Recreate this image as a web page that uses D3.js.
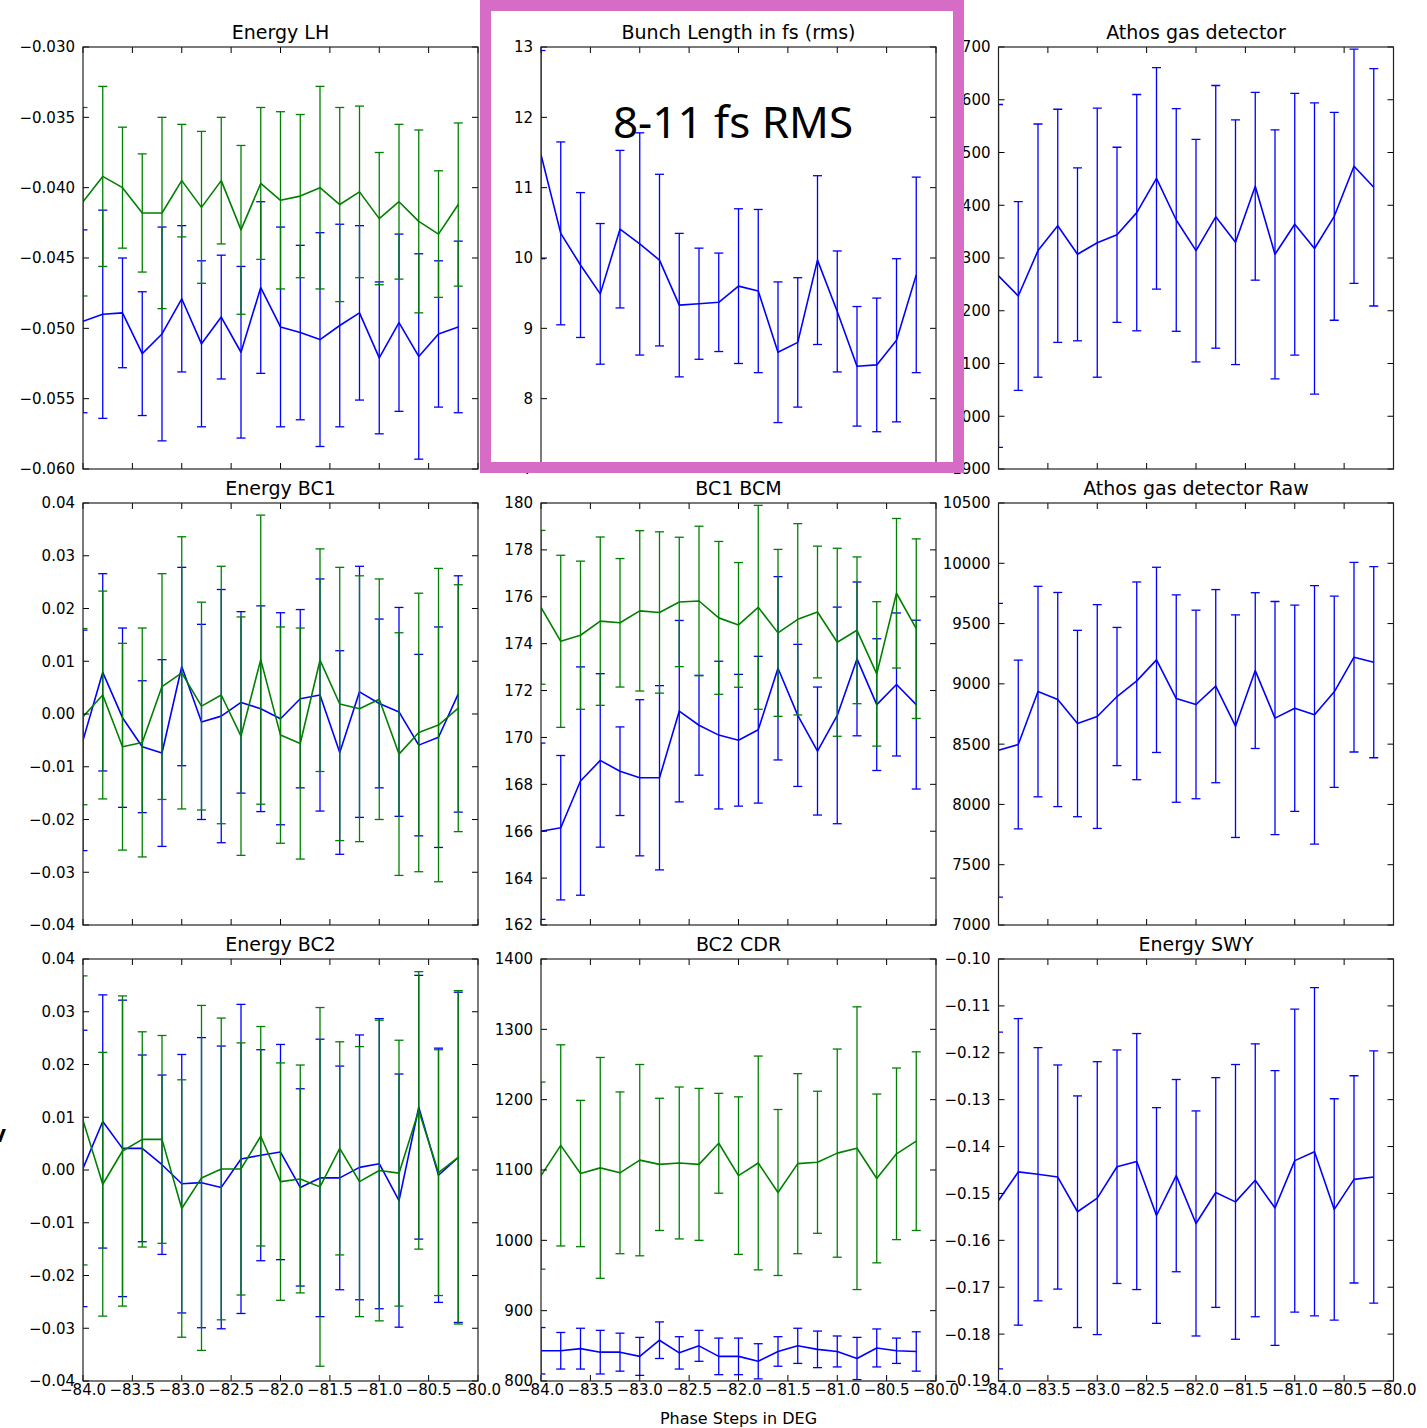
<!DOCTYPE html>
<html>
<head>
<meta charset="utf-8">
<script src="https://cdn.jsdelivr.net/npm/d3@7"></script>
<style>
  body { margin: 0; background: #fff; }
  text { font-family: "DejaVu Sans", sans-serif; fill: #000; }
</style>
</head>
<body>
<svg id="fig"></svg>
<script>
// phase steps (deg) shared by all panels
const phaseSteps = [-84.0, -83.8, -83.6, -83.4, -83.2, -83.0, -82.8, -82.6, -82.4, -82.2,
                    -82.0, -81.8, -81.6, -81.4, -81.2, -81.0, -80.8, -80.6, -80.4, -80.2];
const xTicks = [-84.0, -83.5, -83.0, -82.5, -82.0, -81.5, -81.0, -80.5, -80.0];

// Energy LH
const lhGreenMean = [-0.0410, -0.0392, -0.0400, -0.0418, -0.0418, -0.0395, -0.0414, -0.0395, -0.0430, -0.0397,
                     -0.0409, -0.0406, -0.0400, -0.0412, -0.0403, -0.0422, -0.0410, -0.0424, -0.0433, -0.0412];
const lhGreenErr = [0.0067, 0.0064, 0.0043, 0.0042, 0.0068, 0.0040, 0.0054, 0.0045, 0.0060, 0.0054,
                    0.0063, 0.0058, 0.0072, 0.0069, 0.0061, 0.0047, 0.0055, 0.0065, 0.0045, 0.0058];
const lhBlueMean = [-0.0495, -0.0490, -0.0489, -0.0518, -0.0504, -0.0479, -0.0511, -0.0492, -0.0517, -0.0471,
                    -0.0499, -0.0503, -0.0508, -0.0498, -0.0489, -0.0521, -0.0496, -0.0520, -0.0504, -0.0499];
const lhBlueErr = [0.0065, 0.0074, 0.0039, 0.0044, 0.0076, 0.0052, 0.0059, 0.0044, 0.0061, 0.0061,
                   0.0071, 0.0062, 0.0076, 0.0072, 0.0062, 0.0054, 0.0063, 0.0073, 0.0052, 0.0061];
const lhTicks = [-0.060, -0.055, -0.050, -0.045, -0.040, -0.035, -0.030];

// Bunch length
const blMean = [11.47, 10.35, 9.90, 9.49, 10.41, 10.20, 9.97, 9.33, 9.35, 9.37,
                9.60, 9.53, 8.66, 8.80, 9.97, 9.24, 8.46, 8.48, 8.83, 9.76];
const blErr = [1.48, 1.30, 1.03, 1.00, 1.12, 1.58, 1.22, 1.02, 0.79, 0.70,
               1.10, 1.16, 1.00, 0.92, 1.20, 0.86, 0.85, 0.95, 1.16, 1.39];
const blTicks = [7, 8, 9, 10, 11, 12, 13];

// Athos gas detector
const gdMean = [2266, 2228, 2314, 2361, 2307, 2329, 2344, 2386, 2451, 2372,
                2314, 2378, 2330, 2436, 2307, 2364, 2318, 2379, 2474, 2434];
const gdErr = [325, 179, 240, 221, 164, 255, 166, 224, 210, 211,
               211, 249, 232, 178, 236, 248, 276, 197, 222, 225];
const gdTicks = [1900, 2000, 2100, 2200, 2300, 2400, 2500, 2600, 2700];

// Energy BC1
const bc1BlueMean = [-0.0050, 0.0079, -0.0007, -0.0062, -0.0074, 0.0090, -0.0015, -0.0004, 0.0022, 0.0010,
                     -0.0009, 0.0029, 0.0036, -0.0073, 0.0042, 0.0020, 0.0004, -0.0059, -0.0044, 0.0038];
const bc1BlueErr = [0.0209, 0.0187, 0.0170, 0.0125, 0.0177, 0.0188, 0.0185, 0.0240, 0.0172, 0.0195,
                    0.0201, 0.0169, 0.0220, 0.0193, 0.0238, 0.0160, 0.0198, 0.0172, 0.0209, 0.0224];
const bc1GreenMean = [-0.0005, 0.0036, -0.0062, -0.0054, 0.0052, 0.0078, 0.0015, 0.0036, -0.0042, 0.0103,
                      -0.0040, -0.0056, 0.0102, 0.0019, 0.0010, 0.0028, -0.0076, -0.0035, -0.0021, 0.0011];
const bc1GreenErr = [0.0167, 0.0197, 0.0196, 0.0217, 0.0214, 0.0258, 0.0197, 0.0244, 0.0226, 0.0274,
                     0.0205, 0.0219, 0.0211, 0.0259, 0.0252, 0.0228, 0.0230, 0.0264, 0.0297, 0.0234];
const energyTicks = [-0.04, -0.03, -0.02, -0.01, 0.00, 0.01, 0.02, 0.03, 0.04];

// BC1 BCM
const bcmBlueMean = [166.00, 166.15, 168.14, 169.02, 168.56, 168.28, 168.28, 171.12, 170.52, 170.10,
                     169.88, 170.33, 172.95, 170.94, 169.42, 170.94, 173.35, 171.40, 172.26, 171.40];
const bcmBlueErr = [3.76, 3.08, 4.87, 3.70, 1.89, 3.33, 3.93, 3.87, 2.13, 3.15,
                    2.81, 3.13, 3.91, 3.03, 2.73, 4.62, 3.28, 2.81, 3.05, 3.60];
const bcmGreenMean = [175.55, 174.10, 174.36, 174.96, 174.89, 175.40, 175.33, 175.78, 175.82, 175.10,
                      174.80, 175.55, 174.46, 175.04, 175.35, 174.06, 174.57, 172.71, 176.15, 174.64];
const bcmGreenErr = [3.28, 3.67, 3.16, 3.59, 2.74, 3.42, 3.44, 2.76, 3.19, 3.26,
                     2.66, 4.35, 3.56, 4.08, 2.81, 4.01, 3.13, 3.08, 3.19, 3.83];
const bcmTicks = [162, 164, 166, 168, 170, 172, 174, 176, 178, 180];

// Athos gas detector Raw
const rawMean = [8450, 8497, 8936, 8870, 8671, 8729, 8895, 9025, 9199, 8878,
                 8829, 8981, 8649, 9110, 8716, 8798, 8743, 8934, 9221, 9180];
const rawErr = [1218, 700, 873, 888, 773, 928, 573, 820, 768, 860,
                782, 801, 923, 646, 967, 855, 1072, 793, 786, 793];
const rawTicks = [7000, 7500, 8000, 8500, 9000, 9500, 10000, 10500];

// Energy BC2
const bc2BlueMean = [0.0003, 0.0092, 0.0041, 0.0041, 0.0010, -0.0026, -0.0024, -0.0033, 0.0021, 0.0028,
                     0.0034, -0.0033, -0.0015, -0.0015, 0.0005, 0.0012, -0.0058, 0.0119, -0.0010, 0.0024];
const bc2BlueErr = [0.0262, 0.0240, 0.0281, 0.0177, 0.0170, 0.0245, 0.0275, 0.0268, 0.0293, 0.0200,
                    0.0204, 0.0187, 0.0263, 0.0212, 0.0251, 0.0275, 0.0240, 0.0250, 0.0241, 0.0313];
const bc2GreenMean = [0.0094, -0.0027, 0.0036, 0.0058, 0.0058, -0.0073, -0.0015, 0.0002, 0.0002, 0.0064,
                      -0.0022, -0.0017, -0.0032, 0.0041, -0.0022, -0.0001, -0.0006, 0.0113, -0.0005, 0.0024];
const bc2GreenErr = [0.0274, 0.0250, 0.0294, 0.0204, 0.0197, 0.0244, 0.0327, 0.0286, 0.0239, 0.0208,
                     0.0225, 0.0216, 0.0340, 0.0202, 0.0256, 0.0285, 0.0252, 0.0263, 0.0233, 0.0316];

// BC2 CDR
const cdrGreenMean = [1092, 1135, 1095, 1103, 1096, 1114, 1108, 1110, 1108, 1138,
                      1092, 1110, 1068, 1109, 1111, 1124, 1131, 1088, 1123, 1141];
const cdrGreenErr = [133, 143, 104, 157, 115, 136, 94, 108, 108, 71,
                     112, 152, 118, 128, 101, 148, 201, 120, 122, 127];
const cdrBlueMean = [843, 843, 846, 841, 841, 835, 858, 840, 850, 835,
                     835, 828, 842, 850, 845, 842, 832, 847, 843, 842];
const cdrBlueErr = [33, 26, 29, 31, 27, 27, 26, 23, 22, 26,
                    26, 25, 21, 25, 26, 22, 30, 27, 18, 28];
const cdrTicks = [800, 900, 1000, 1100, 1200, 1300, 1400];

// Energy SWY
const swyMean = [-0.1515, -0.1454, -0.1459, -0.1465, -0.1539, -0.1510, -0.1443, -0.1432, -0.1547, -0.1462,
                 -0.1564, -0.1498, -0.1518, -0.1472, -0.1531, -0.1430, -0.1411, -0.1534, -0.1470, -0.1465];
const swyErr = [0.0359, 0.0327, 0.0270, 0.0239, 0.0247, 0.0291, 0.0249, 0.0273, 0.0230, 0.0205,
                0.0240, 0.0245, 0.0293, 0.0291, 0.0293, 0.0323, 0.0350, 0.0236, 0.0221, 0.0269];
const swyTicks = [-0.19, -0.18, -0.17, -0.16, -0.15, -0.14, -0.13, -0.12, -0.11, -0.10];

const BLUE = "#0000ff", GREEN = "#008000";

const panels = [
  { title: "Energy LH", ticks: lhTicks, fmt: ".3f",
    series: [{ mean: lhBlueMean, err: lhBlueErr, color: BLUE }, { mean: lhGreenMean, err: lhGreenErr, color: GREEN }] },
  { title: "Bunch Length in fs (rms)", ticks: blTicks, fmt: "d",
    series: [{ mean: blMean, err: blErr, color: BLUE }] },
  { title: "Athos gas detector", ticks: gdTicks, fmt: "d",
    series: [{ mean: gdMean, err: gdErr, color: BLUE }] },
  { title: "Energy BC1", ticks: energyTicks, fmt: ".2f",
    series: [{ mean: bc1BlueMean, err: bc1BlueErr, color: BLUE }, { mean: bc1GreenMean, err: bc1GreenErr, color: GREEN }] },
  { title: "BC1 BCM", ticks: bcmTicks, fmt: "d",
    series: [{ mean: bcmBlueMean, err: bcmBlueErr, color: BLUE }, { mean: bcmGreenMean, err: bcmGreenErr, color: GREEN }] },
  { title: "Athos gas detector Raw", ticks: rawTicks, fmt: "d",
    series: [{ mean: rawMean, err: rawErr, color: BLUE }] },
  { title: "Energy BC2", ticks: energyTicks, fmt: ".2f",
    series: [{ mean: bc2BlueMean, err: bc2BlueErr, color: BLUE }, { mean: bc2GreenMean, err: bc2GreenErr, color: GREEN }] },
  { title: "BC2 CDR", ticks: cdrTicks, fmt: "d",
    series: [{ mean: cdrBlueMean, err: cdrBlueErr, color: BLUE }, { mean: cdrGreenMean, err: cdrGreenErr, color: GREEN }] },
  { title: "Energy SWY", ticks: swyTicks, fmt: ".2f",
    series: [{ mean: swyMean, err: swyErr, color: BLUE }] }
];

const width = 1427, height = 1428;
const colX = [83, 541, 998.5];
const rowY = [47, 503, 959];
const pw = 395, ph = 422;
const tickLen = 6, capHalf = 4.5;

const svg = d3.select("#fig")
  .attr("width", width)
  .attr("height", height);

svg.append("rect").attr("width", width).attr("height", height).attr("fill", "#fff");

panels.forEach((p, i) => {
  const col = i % 3, row = Math.floor(i / 3);
  const x0 = colX[col], y0 = rowY[row];

  const x = d3.scaleLinear().domain([-84, -80]).range([0, pw]);
  const y = d3.scaleLinear().domain(d3.extent(p.ticks)).range([ph, 0]);
  const fmt = d3.format(p.fmt);

  const g = svg.append("g").attr("transform", `translate(${x0},${y0})`);

  g.append("clipPath").attr("id", "clip" + i)
    .append("rect").attr("width", pw).attr("height", ph);

  const plot = g.append("g").attr("clip-path", `url(#clip${i})`);

  p.series.forEach(s => {
    const pts = phaseSteps.map((v, k) => ({ x: v, m: s.mean[k], e: s.err[k] }));
    const bars = plot.append("g")
      .attr("stroke", s.color)
      .attr("stroke-width", 1.3)
      .attr("fill", "none");

    bars.selectAll("line.bar")
      .data(pts)
      .join("line")
      .attr("class", "bar")
      .attr("x1", d => x(d.x)).attr("x2", d => x(d.x))
      .attr("y1", d => y(d.m - d.e)).attr("y2", d => y(d.m + d.e));

    bars.selectAll("line.capTop")
      .data(pts)
      .join("line")
      .attr("class", "capTop")
      .attr("x1", d => x(d.x) - capHalf).attr("x2", d => x(d.x) + capHalf)
      .attr("y1", d => y(d.m + d.e)).attr("y2", d => y(d.m + d.e));

    bars.selectAll("line.capBot")
      .data(pts)
      .join("line")
      .attr("class", "capBot")
      .attr("x1", d => x(d.x) - capHalf).attr("x2", d => x(d.x) + capHalf)
      .attr("y1", d => y(d.m - d.e)).attr("y2", d => y(d.m - d.e));

    plot.append("path")
      .datum(pts)
      .attr("fill", "none")
      .attr("stroke", s.color)
      .attr("stroke-width", 1.6)
      .attr("stroke-linejoin", "round")
      .attr("d", d3.line().x(d => x(d.x)).y(d => y(d.m)));
  });

  // inward ticks on all four sides (classic matplotlib look)
  const tk = g.append("g").attr("stroke", "#000").attr("stroke-width", 1);
  xTicks.forEach(t => {
    tk.append("line").attr("x1", x(t)).attr("x2", x(t)).attr("y1", ph).attr("y2", ph - tickLen);
    tk.append("line").attr("x1", x(t)).attr("x2", x(t)).attr("y1", 0).attr("y2", tickLen);
  });
  p.ticks.forEach(t => {
    tk.append("line").attr("x1", 0).attr("x2", tickLen).attr("y1", y(t)).attr("y2", y(t));
    tk.append("line").attr("x1", pw).attr("x2", pw - tickLen).attr("y1", y(t)).attr("y2", y(t));
  });

  g.append("rect")
    .attr("width", pw).attr("height", ph)
    .attr("fill", "none")
    .attr("stroke", "#222")
    .attr("stroke-width", 1.2);

  g.selectAll("text.ylab")
    .data(p.ticks)
    .join("text")
    .attr("class", "ylab")
    .attr("x", -8)
    .attr("y", d => y(d))
    .attr("dy", "0.36em")
    .attr("text-anchor", "end")
    .style("font-size", "15px")
    .text(d => fmt(d));

  if (row === 2) {
    g.selectAll("text.xlab")
      .data(xTicks)
      .join("text")
      .attr("class", "xlab")
      .attr("x", d => x(d))
      .attr("y", ph + 14)
      .attr("text-anchor", "middle")
      .style("font-size", "15px")
      .text(d => d3.format(".1f")(d));
  }

  g.append("text")
    .attr("x", pw / 2)
    .attr("y", -8)
    .attr("text-anchor", "middle")
    .style("font-size", "19px")
    .text(p.title);
});

// shared x label
svg.append("text")
  .attr("x", colX[1] + pw / 2)
  .attr("y", 1424)
  .attr("text-anchor", "middle")
  .style("font-size", "16px")
  .text("Phase Steps in DEG");

// cut-off label fragment at the left edge
svg.append("text")
  .attr("x", -8)
  .attr("y", 1142)
  .style("font-size", "18px")
  .style("font-weight", "bold")
  .text("V");

// highlight box around the bunch length panel
svg.append("rect")
  .attr("x", 485.5).attr("y", 5.5)
  .attr("width", 473).attr("height", 462)
  .attr("fill", "none")
  .attr("stroke", "#d66cc6")
  .attr("stroke-width", 11);

svg.append("text")
  .attr("x", 733)
  .attr("y", 138)
  .attr("text-anchor", "middle")
  .style("font-family", "'Noto Sans', sans-serif")
  .style("font-size", "44px")
  .text("8-11 fs RMS");
</script>
</body>
</html>
